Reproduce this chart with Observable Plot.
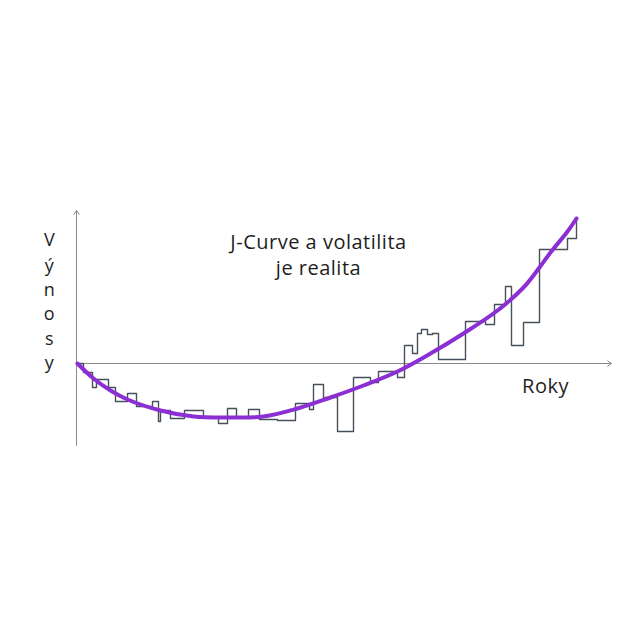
<!DOCTYPE html>
<html>
<head>
<meta charset="utf-8">
<script src="https://cdn.jsdelivr.net/npm/d3@7"></script>
<script src="https://cdn.jsdelivr.net/npm/@observablehq/plot@0.6"></script>
<style>
  html, body { margin: 0; padding: 0; background: #fff; }
  svg text { letter-spacing: 0.5px; }
</style>
</head>
<body>
<div id="chart"></div>
<script>
// Volatile realised returns (step series): time index and level
const stepT = [1, 7, 16, 20, 32, 39, 51, 60, 76, 82, 84, 94, 108, 127, 142, 151, 160, 172, 183, 201, 219, 233, 237, 247, 261, 277, 294, 302, 321, 328, 336, 341, 345, 351, 356, 362, 389, 409, 418, 429, 435, 447, 463, 491, 500];
const stepV = [0, -9, -24, -16, -24, -38, -30, -43, -38, -58, -47, -55, -47, -54, -60, -45, -54, -46, -56, -57, -40, -46, -21, -34, -68, -14, -19, -8, -14, 18, 10, 30, 34, 29, 30, 4, 42, 39, 59, 77, 18, 41, 114, 125, 146];

// Smooth J-curve
const curveT = [1, 17, 34, 51, 84, 117, 151, 187, 221, 254, 287, 321, 354, 387, 421, 447, 463, 474, 491, 500];
const curveV = [0, -15, -27, -36, -47, -53, -54, -53, -45, -34, -22, -8, 10, 30, 53, 76, 96, 111, 132, 145];

// Labels
const titleLines = ["J-Curve a volatilita", "je realita"];
const xLabel = "Roky";
const yLetters = ["V", "ý", "n", "o", "s", "y"];

const steps = stepT.map((t, i) => ({t, v: stepV[i]}));
const curve = curveT.map((t, i) => ({t, v: curveV[i]}));

const font = "'Open Sans', 'Noto Sans', sans-serif";

const chart = Plot.plot({
  width: 640,
  height: 640,
  marginLeft: 76,
  marginRight: 29,
  marginTop: 200,
  marginBottom: 190,
  x: {domain: [0, 535], axis: null},
  y: {domain: [-87, 163], axis: null},
  style: {fontFamily: font, background: "#fff"},
  marks: [
    // axes with open arrowheads
    Plot.arrow([{x1: 0, y1: -82, x2: 0, y2: 153}], {x1: "x1", y1: "y1", x2: "x2", y2: "y2", stroke: "#8a8a8a", strokeWidth: 1, headLength: 7, headAngle: 70}),
    Plot.arrow([{x1: 0, y1: 0, x2: 535, y2: 0}], {x1: "x1", y1: "y1", x2: "x2", y2: "y2", stroke: "#8a8a8a", strokeWidth: 1, headLength: 7, headAngle: 70}),
    // volatile steps
    Plot.line(steps, {x: "t", y: "v", curve: "step-after", stroke: "#46515b", strokeWidth: 1.4}),
    // J-curve
    Plot.line(curve, {x: "t", y: "v", curve: "catmull-rom", stroke: "#8b2fd4", strokeWidth: 4, strokeLinecap: "round"}),
    // title
    Plot.text(titleLines, {x: 242, y: (d, i) => [121, 95][i], text: d => d, fontSize: 20, fill: "#1e1e1e"}),
    // x label
    Plot.text([xLabel], {x: 469, y: -23, text: d => d, fontSize: 20, fill: "#1e1e1e"}),
    // y label letters
    Plot.text(yLetters, {x: -27, y: (d, i) => [123, 97, 73, 49, 24, 0][i], text: d => d, fontSize: 18, fill: "#1e1e1e"})
  ]
});

document.getElementById("chart").appendChild(chart);
</script>
</body>
</html>
